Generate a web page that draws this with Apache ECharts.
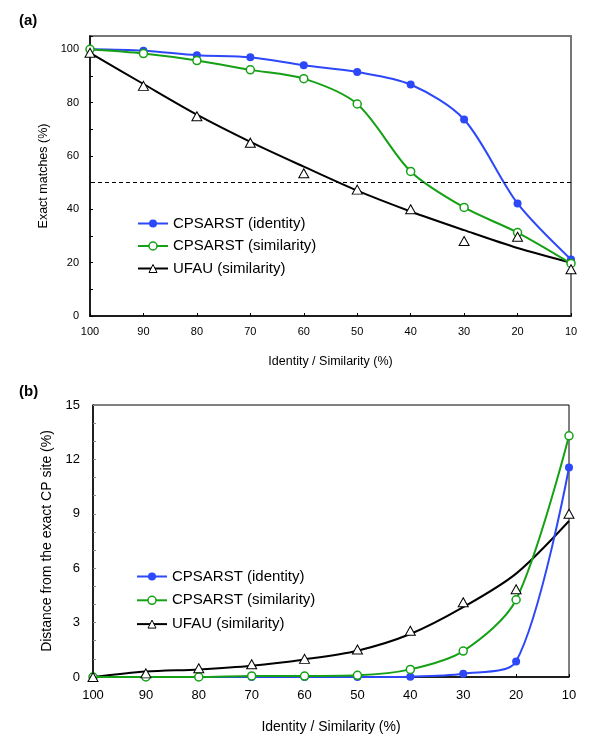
<!DOCTYPE html>
<html>
<head>
<meta charset="utf-8">
<script src="https://cdn.jsdelivr.net/npm/echarts@6/dist/echarts.min.js"></script>
<style>
html,body{margin:0;padding:0;background:#fff;}
#c{width:600px;height:746px;}
</style>
</head>
<body>
<div id="c"></div>
<script>
// ---- Data ----
const xCats = [100, 90, 80, 70, 60, 50, 40, 30, 20, 10];

// (a) Exact matches (%)
const aIdentity   = [100, 99.5, 97.8, 97.0, 94.0, 91.5, 86.8, 73.7, 42.2, 21.2];
const aSimilarity = [100, 98.4, 95.8, 92.3, 89.0, 79.5, 54.2, 40.7, 31.3, 19.7];
const aUfauPts    = [98.7, 86.3, 74.9, 65.0, 53.5, 47.4, 40.0, 28.1, 29.7, 17.5];
const aUfauFit    = [98.7, 87.0, 75.5, 65.3, 56.0, 47.0, 39.2, 32.2, 25.5, 20.0];

// (b) Distance from the exact CP site (%)
const bIdentity   = [0, 0, 0, 0, 0, 0, 0.02, 0.18, 0.86, 11.55];
const bSimilarity = [0, 0, 0, 0.06, 0.05, 0.09, 0.42, 1.43, 4.26, 13.3];
const bUfauPts    = [0, 0.2, 0.48, 0.7, 1.0, 1.52, 2.55, 4.12, 4.84, 9.0];
const bUfauFit    = [0, 0.3, 0.42, 0.62, 0.97, 1.45, 2.37, 3.85, 5.7, 8.6];

const names = ['CPSARST (identity)', 'CPSARST (similarity)', 'UFAU (similarity)'];

const BLUE = '#2d48f8', GREEN = '#15a015', BLACK = '#000';
const FONT = "'Liberation Sans', Arial, Helvetica, sans-serif";

function pairs(vals){ return xCats.map((x,i)=>[x, vals[i]]); }

function seriesFor(idx, ident, sim, pts, fit, withMark){
  const s = [
    {
      name: names[0], type:'line', xAxisIndex:idx, yAxisIndex:idx,
      data: pairs(ident), smooth:0.3, symbol:'circle', symbolSize:8,
      itemStyle:{color:BLUE}, lineStyle:{color:BLUE, width:2}, z:3
    },
    {
      name: names[1], type:'line', xAxisIndex:idx, yAxisIndex:idx,
      data: pairs(sim), smooth:0.3, symbol:'circle', symbolSize:8, showSymbol:true,
      itemStyle:{color:'#fff', borderColor:GREEN, borderWidth:1.5},
      lineStyle:{color:GREEN, width:2}, z:4
    },
    {
      name: names[2], type:'line', xAxisIndex:idx, yAxisIndex:idx,
      data: pairs(fit), smooth:0.3, symbol:'triangle', symbolSize:[10,9], showSymbol:false,
      itemStyle:{color:'#fff', borderColor:BLACK, borderWidth:1},
      lineStyle:{color:BLACK, width:2}, z:2
    },
    {
      name: names[2], type:'scatter', xAxisIndex:idx, yAxisIndex:idx,
      data: pairs(pts), symbol:'triangle', symbolSize:[10,9],
      itemStyle:{color:'#fff', borderColor:BLACK, borderWidth:1, opacity:1}, z:5
    }
  ];
  if (withMark) {
    s[2].markLine = {
      silent:true, symbol:['none','none'], label:{show:false},
      lineStyle:{color:'#000', type:[4,3], width:1},
      data:[{yAxis:50}]
    };
  }
  return s;
}

const legendData = [
  {name:names[0]},
  {name:names[1], itemStyle:{borderWidth:1.5}},
  {name:names[2], itemStyle:{borderWidth:1}}
];

const chart = echarts.init(document.getElementById('c'), null, {renderer:'canvas'});
chart.setOption({
  animation:false,
  backgroundColor:'#fff',
  title:[
    {text:'(a)', left:14, top:8, textStyle:{fontFamily:FONT, fontSize:15, fontWeight:'bold', color:'#000'}},
    {text:'(b)', left:14, top:379, textStyle:{fontFamily:FONT, fontSize:15, fontWeight:'bold', color:'#000'}}
  ],
  legend:[
    {
      data:legendData, orient:'vertical', left:132, top:211, itemWidth:30, itemHeight:10, itemGap:7.5,
      textStyle:{fontFamily:FONT, fontSize:15, color:'#000', lineHeight:15}, selectedMode:false
    },
    {
      data:legendData, orient:'vertical', left:131, top:564, itemWidth:30, itemHeight:10, itemGap:8.8,
      textStyle:{fontFamily:FONT, fontSize:15, color:'#000', lineHeight:15}, selectedMode:false
    }
  ],
  grid:[
    {left:90, right:29, top:36, bottom:430, show:true, borderColor:'#777', borderWidth:2, backgroundColor:'transparent'},
    {left:93, right:31, top:405, bottom:69, show:true, borderColor:'#000', borderWidth:1, backgroundColor:'transparent'}
  ],
  xAxis:[
    {
      gridIndex:0, type:'value', inverse:true, min:10, max:100, interval:10,
      name:'Identity / Similarity (%)', nameLocation:'middle', nameGap:39,
      nameTextStyle:{fontFamily:FONT, fontSize:12.5, color:'#000'},
      axisLine:{show:true, lineStyle:{color:'#000', width:1.5}},
      axisTick:{show:true, inside:true, length:3, lineStyle:{color:'#000'}},
      axisLabel:{fontFamily:FONT, fontSize:11, color:'#000', margin:10},
      splitLine:{show:false}
    },
    {
      gridIndex:1, type:'value', inverse:true, min:10, max:100, interval:10,
      name:'Identity / Similarity (%)', nameLocation:'middle', nameGap:43,
      nameTextStyle:{fontFamily:FONT, fontSize:14, color:'#000'},
      axisLine:{show:true, lineStyle:{color:'#000', width:1.5}},
      axisTick:{show:true, inside:true, length:3, lineStyle:{color:'#000'}},
      axisLabel:{fontFamily:FONT, fontSize:13, color:'#000', margin:12},
      splitLine:{show:false}
    }
  ],
  yAxis:[
    {
      gridIndex:0, type:'value', min:0, max:105, interval:10,
      name:'Exact matches (%)', nameLocation:'middle', nameGap:34,
      nameTextStyle:{fontFamily:FONT, fontSize:12.5, color:'#000'},
      axisLine:{show:true, lineStyle:{color:'#000', width:1.5}},
      axisTick:{show:true, inside:true, length:3, lineStyle:{color:'#000'}},
      axisLabel:{fontFamily:FONT, fontSize:11, color:'#000', margin:11,
        formatter:function(v){ return (v % 20 === 0 && v <= 100) ? String(v) : ''; }},
      splitLine:{show:false}
    },
    {
      gridIndex:1, type:'value', min:0, max:15, interval:1,
      name:'Distance from the exact CP site (%)', nameLocation:'middle', nameGap:38,
      nameTextStyle:{fontFamily:FONT, fontSize:14, color:'#000'},
      axisLine:{show:true, lineStyle:{color:'#000', width:1.5}},
      axisTick:{show:true, inside:true, length:3, lineStyle:{color:'#888'}},
      axisLabel:{fontFamily:FONT, fontSize:13, color:'#000', margin:13,
        formatter:function(v){ return (v % 3 === 0) ? String(v) : ''; }},
      splitLine:{show:false}
    }
  ],
  series: seriesFor(0, aIdentity, aSimilarity, aUfauPts, aUfauFit, true)
    .concat(seriesFor(1, bIdentity, bSimilarity, bUfauPts, bUfauFit, false))
});
</script>
</body>
</html>
